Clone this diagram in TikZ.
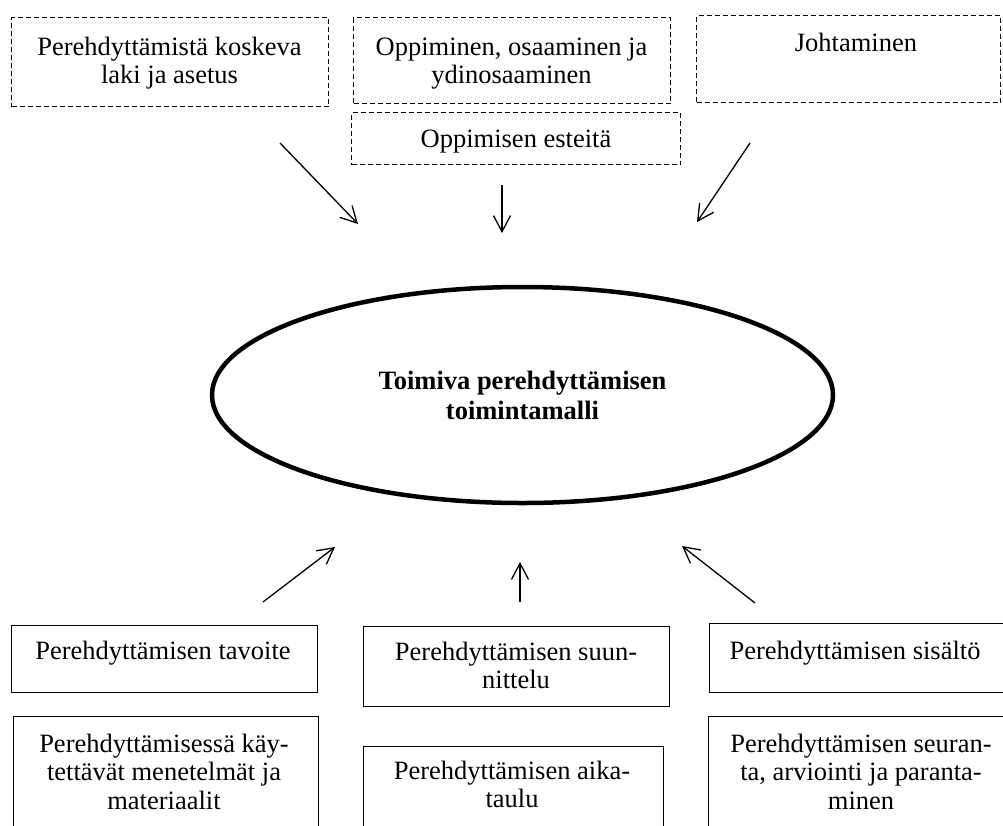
\documentclass[tikz,border=0pt]{standalone}
\usepackage{fontspec}
\setmainfont{Liberation Serif}
\usetikzlibrary{arrows.meta,shapes.geometric}

\tikzset{
  dbox/.style={draw, dash pattern=on 5pt off 3pt, line width=1pt, inner sep=0pt, anchor=north west},
  sbox/.style={draw, line width=1.2pt, inner sep=0pt, anchor=north west},
  % multi-line text: the base anchor sits on the last line's baseline
  txt/.style={inner sep=0pt, align=center, anchor=base,
    font=\fontsize{26.5}{28.5}\selectfont},
  core/.style={draw, ellipse, line width=4.5pt, inner sep=0pt, align=center,
    font=\fontsize{26.5}{30}\selectfont\bfseries},
  flow/.style={line width=1.3pt, -{Straight Barb[length=16pt,width=17pt]}}
}

\begin{document}
\begin{tikzpicture}[x=1pt,y=-1pt]
\useasboundingbox (0,0) rectangle (1003,825);

% influencing factors (dashed)
\node[dbox, minimum width=317pt, minimum height=89pt] (law)   at (11,17)  {};
\node[dbox, minimum width=317pt, minimum height=86pt] (learn) at (353,17) {};
\node[dbox, minimum width=329pt, minimum height=52pt] (obst)  at (351,112) {};
\node[dbox, minimum width=304pt, minimum height=87pt] (lead)  at (696,15) {};

\node[txt] (lawT)   at (169.5,83.5) {Perehdyttämistä koskeva\\laki ja asetus};
\node[txt] (learnT) at (511.5,83.5) {Oppiminen, osaaminen ja\\ydinosaaminen};
\node[txt] (obstT)  at (516,147)    {Oppimisen esteitä};
\node[txt] (leadT)  at (856,51)     {Johtaminen};

% central model
\node[core, minimum width=621pt, minimum height=216pt] (model) at (522.5,395)
  {Toimiva perehdyttämisen\\toimintamalli};

% building blocks (solid)
\node[sbox, minimum width=306pt, minimum height=67pt]  (goal)   at (11,625)  {};
\node[sbox, minimum width=305pt, minimum height=124pt] (method) at (13,716)  {};
\node[sbox, minimum width=306pt, minimum height=80pt]  (plan)   at (363,626) {};
\node[sbox, minimum width=300pt, minimum height=94pt]  (sched)  at (363,746) {};
\node[sbox, minimum width=306pt, minimum height=69pt]  (cont)   at (709,623) {};
\node[sbox, minimum width=307pt, minimum height=124pt] (eval)   at (708,716) {};

\node[txt] (goalT)   at (163,659)   {Perehdyttämisen tavoite};
\node[txt] (methodT) at (164,809)   {Perehdyttämisessä käy-\\tettävät menetelmät ja\\materiaalit};
\node[txt] (planT)   at (516,688.5) {Perehdyttämisen suun-\\nittelu};
\node[txt] (schedT)  at (512,807.5) {Perehdyttämisen aika-\\taulu};
\node[txt] (contT)   at (855,659)   {Perehdyttämisen sisältö};
\node[txt] (evalT)   at (861,809)   {Perehdyttämisen seuran-\\ta, arviointi ja paranta-\\minen};

% arrow end points
\coordinate (a1s) at (280,143); \coordinate (a1e) at (358,224);
\coordinate (a2s) at (502,185); \coordinate (a2e) at (502,233);
\coordinate (a3s) at (750,143); \coordinate (a3e) at (697,222);
\coordinate (a4s) at (263,602); \coordinate (a4e) at (335,547);
\coordinate (a5s) at (520,602); \coordinate (a5e) at (520,562);
\coordinate (a6s) at (755,603); \coordinate (a6e) at (682,546);

\draw[flow] (a1s) -- (a1e);
\draw[flow] (a2s) -- (a2e);
\draw[flow] (a3s) -- (a3e);
\draw[flow] (a4s) -- (a4e);
\draw[flow] (a5s) -- (a5e);
\draw[flow] (a6s) -- (a6e);
\end{tikzpicture}
\end{document}
